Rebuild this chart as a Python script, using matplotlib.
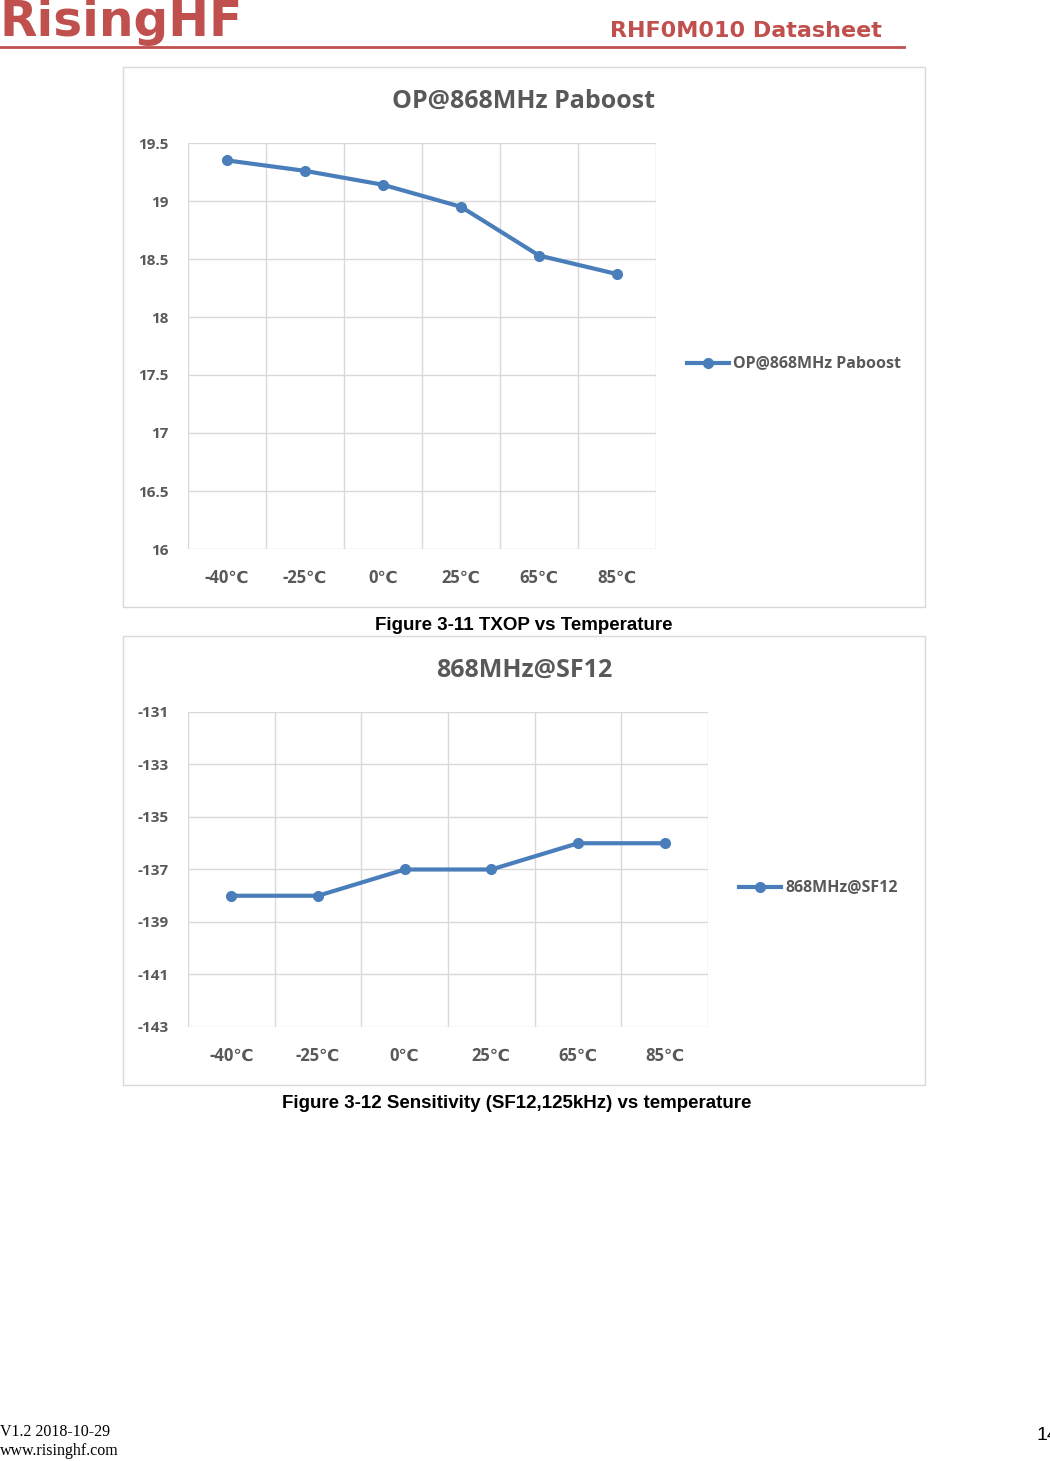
import matplotlib.pyplot as plt
from matplotlib.lines import Line2D
from matplotlib.patches import Rectangle

temps = ['-40℃', '-25℃', '0℃', '25℃', '65℃', '85℃']
txop = [19.35, 19.26, 19.14, 18.95, 18.53, 18.37]
sens = [-138, -138, -137, -137, -136, -136]

W, H = 1050, 1461
fig = plt.figure(figsize=(W / 100, H / 100), dpi=100)
plt.rcParams['font.family'] = ['Open Sans', 'DejaVu Sans']

blue = '#4a7ebb'
grey = '#595959'
red = '#c0504d'


def fx(x):
    return x / W


def fy(y):
    return 1 - y / H


def box(x0, y0, x1, y1):
    fig.add_artist(Rectangle((fx(x0), fy(y1)), fx(x1) - fx(x0), fy(y0) - fy(y1),
                             transform=fig.transFigure, fill=False, ec='#d9d9d9', lw=1))


def chart(rect, vals, ticks, ylim, title, tx, ty, legx, legy):
    ax = fig.add_axes(rect)
    x = range(len(temps))
    ax.plot(x, vals, color=blue, lw=3, marker='o', ms=7)
    ax.set_xlim(-0.5, len(temps) - 0.5)
    ax.set_ylim(*ylim)
    ax.set_yticks(ticks)
    ax.set_yticklabels([f'{t:g}' for t in ticks], fontsize=11, fontweight='bold', color=grey)
    ax.set_xticks(list(x))
    ax.set_xticklabels(temps, fontsize=12, fontweight='bold', color=grey)
    for v in range(len(temps) + 1):
        ax.axvline(v - 0.5, color='#d9d9d9', lw=1, zorder=0)
    ax.grid(axis='y', color='#d9d9d9', lw=1)
    ax.set_axisbelow(True)
    for s in ax.spines.values():
        s.set_visible(False)
    ax.tick_params(length=0, pad=14)
    fig.text(fx(tx), fy(ty), title, ha='center', va='center', fontsize=18,
             fontweight='bold', color=grey)
    fig.add_artist(Line2D([fx(legx), fx(legx + 42)], [fy(legy)] * 2, color=blue, lw=3,
                          transform=fig.transFigure))
    fig.add_artist(Line2D([fx(legx + 21)], [fy(legy)], color=blue, marker='o', ms=7,
                          transform=fig.transFigure))
    fig.text(fx(legx + 46), fy(legy), title, ha='left', va='center', fontsize=11.5,
             fontweight='bold', color=grey)


box(123, 67, 925, 607)
chart([fx(188), fy(549), (656 - 188) / W, 406 / H], txop,
      [16, 16.5, 17, 17.5, 18, 18.5, 19, 19.5], (16, 19.5),
      'OP@868MHz Paboost', 524, 101, 687, 363)
box(123, 636, 925, 1085)
chart([fx(188), fy(1027), (708 - 188) / W, 315 / H], sens,
      [-143, -141, -139, -137, -135, -133, -131], (-143, -131),
      '868MHz@SF12', 524, 670, 739, 887)

# captions
fig.text(fx(524), fy(625), 'Figure 3-11 TXOP vs Temperature', ha='center', va='center',
         fontsize=13.5, fontweight='bold', family='Liberation Sans')
fig.text(fx(517), fy(1103), 'Figure 3-12 Sensitivity (SF12,125kHz) vs temperature',
         ha='center', va='center', fontsize=13.5, fontweight='bold', family='Liberation Sans')

# page header
fig.text(fx(0), fy(22), 'RisingHF', ha='left', va='center', fontsize=35,
         fontweight='bold', color=red, family='DejaVu Sans')
fig.text(fx(882), fy(31), 'RHF0M010 Datasheet', ha='right', va='center', fontsize=16,
         fontweight='bold', color=red, family='DejaVu Sans')
fig.add_artist(Line2D([0, fx(904)], [fy(47)] * 2, color=red, lw=2, transform=fig.transFigure))

# footer
fig.text(fx(0), fy(1432), 'V1.2 2018-10-29', ha='left', va='center', fontsize=11.5,
         family='Liberation Serif')
fig.text(fx(0), fy(1451), 'www.risinghf.com', ha='left', va='center', fontsize=11.5,
         family='Liberation Serif')
fig.text(fx(1036), fy(1436), '14', ha='left', va='center', fontsize=14,
         family='Liberation Sans')

fig.savefig('out.png', dpi=100)
